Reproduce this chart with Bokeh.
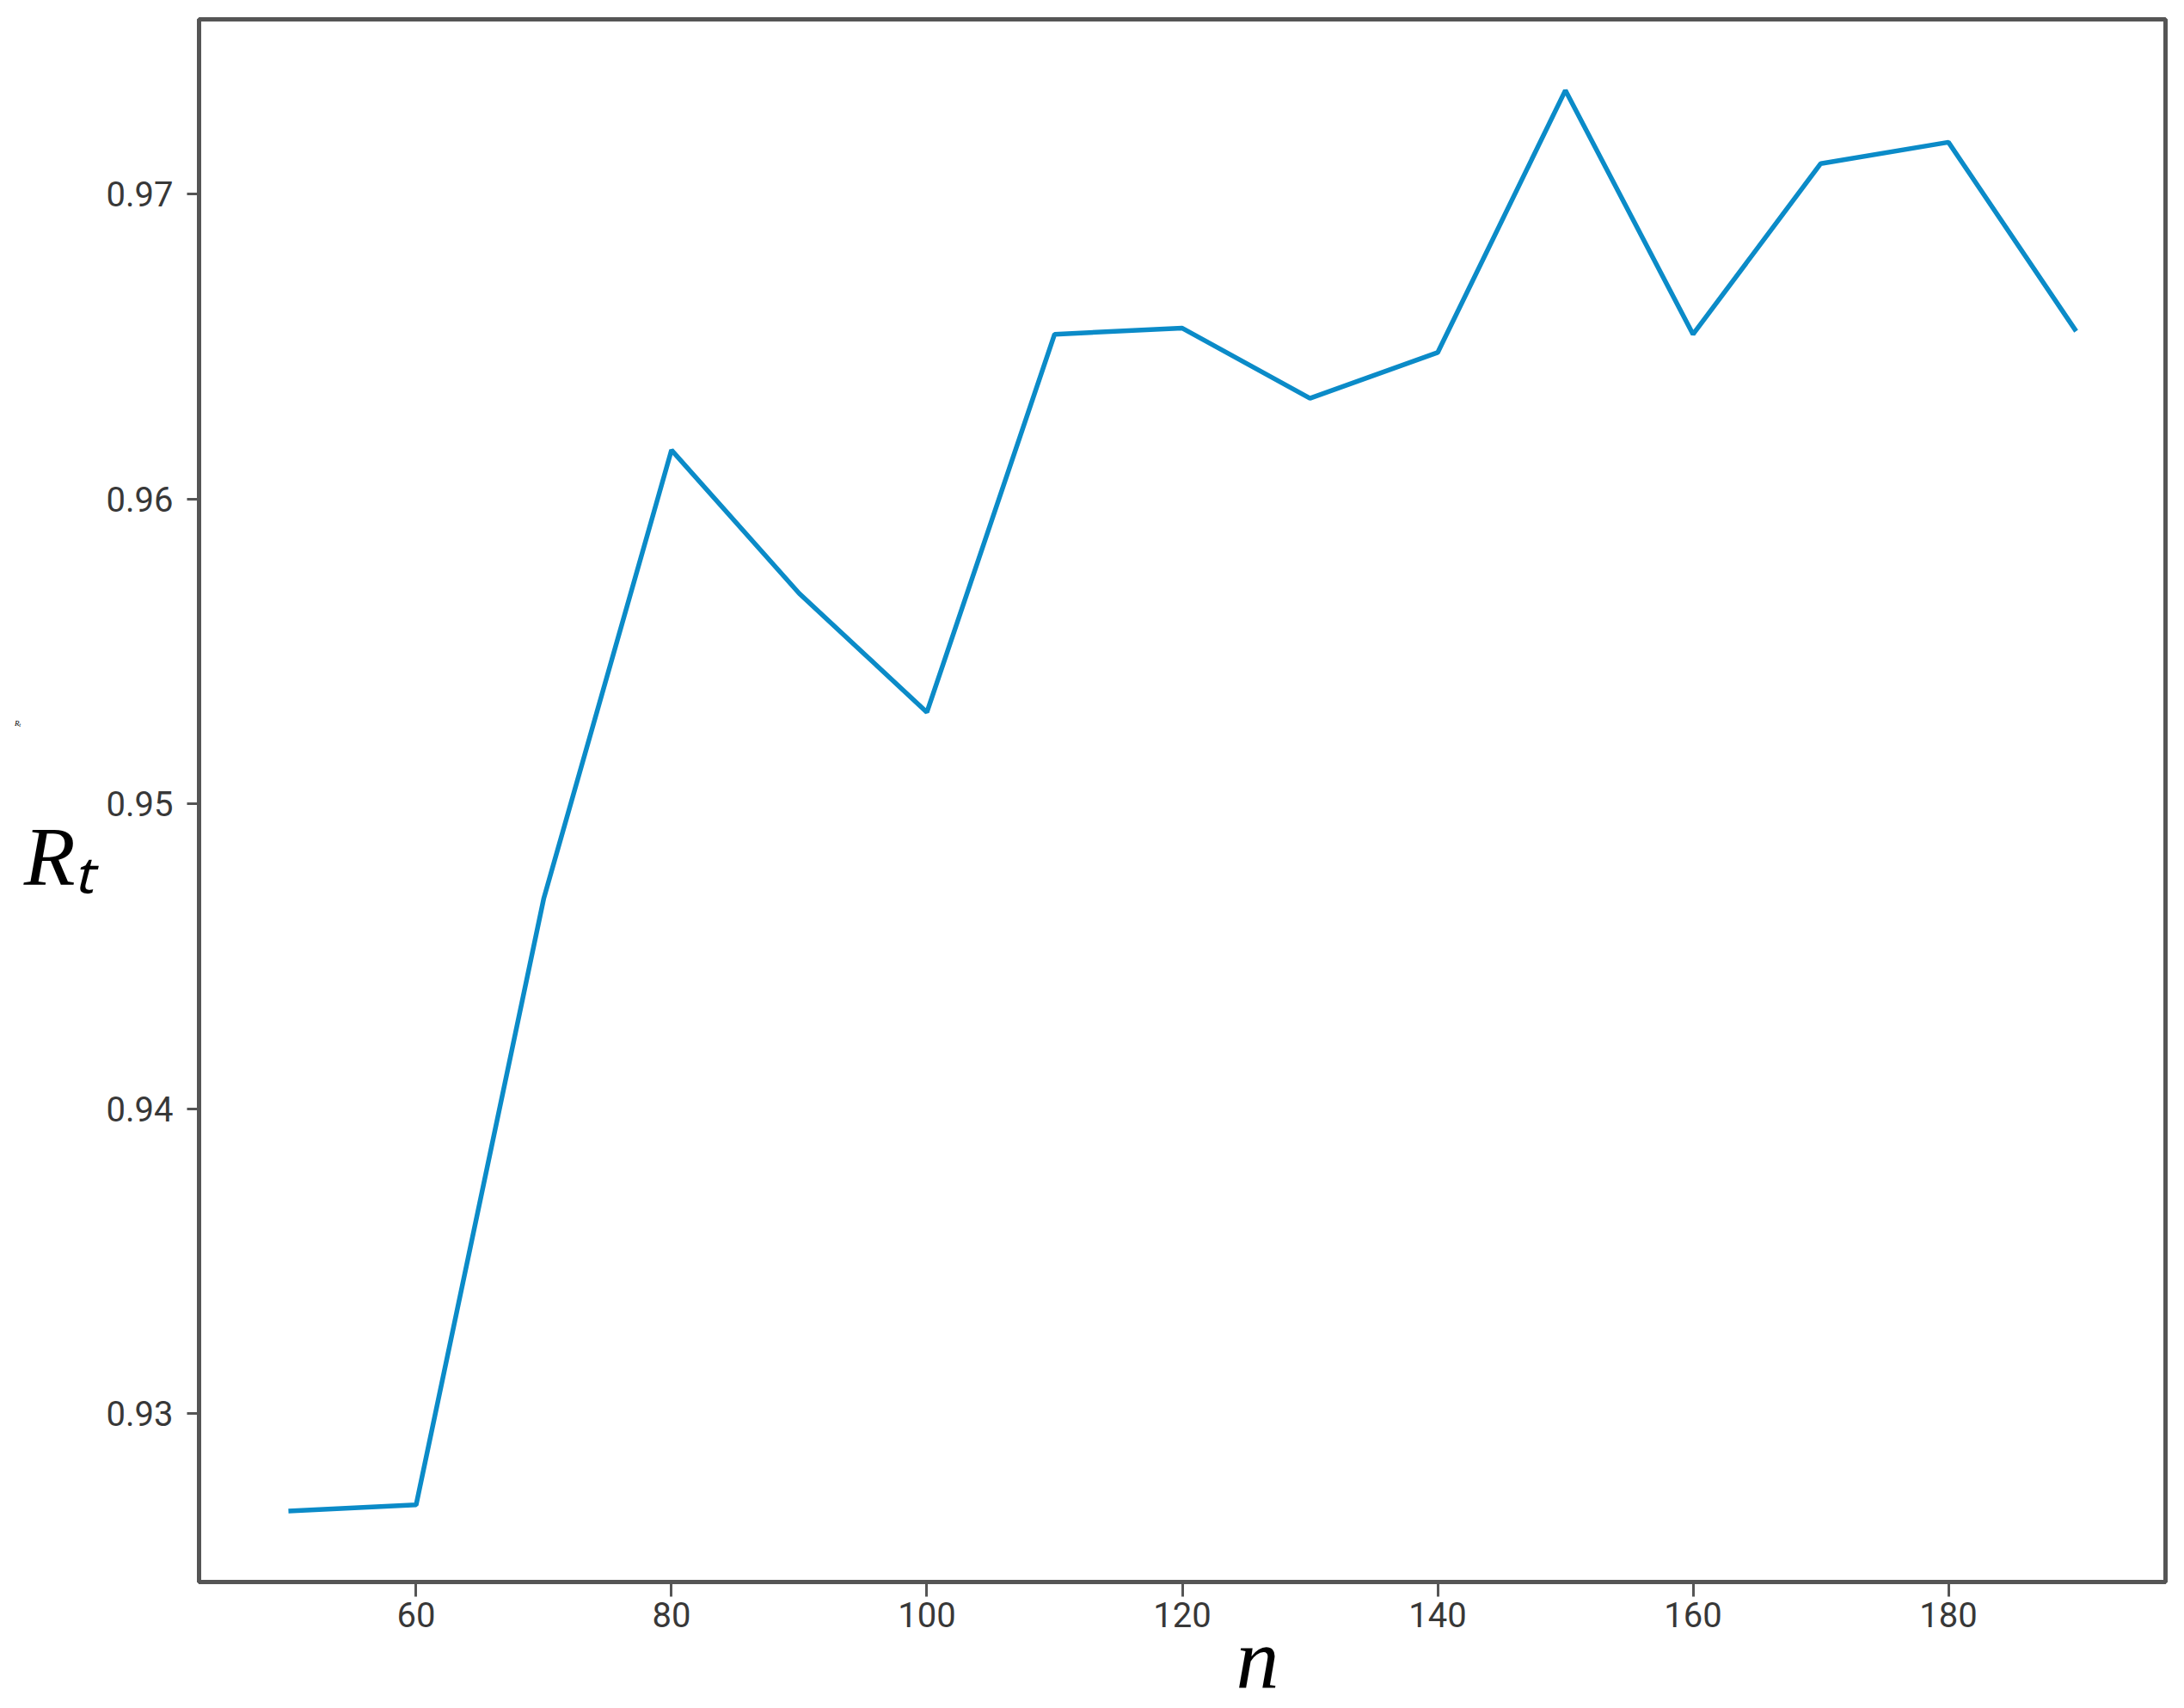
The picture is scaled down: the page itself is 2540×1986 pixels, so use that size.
from bokeh.plotting import figure
from bokeh.models import Range1d, FixedTicker, NumeralTickFormatter, LinearAxis
from bokeh.embed import file_html
from bokeh.resources import INLINE

# data
n_values = [50, 60, 70, 80, 90, 100, 110, 120, 130, 140, 150, 160, 170, 180, 190]
rt_values = [0.9268, 0.9270, 0.9469, 0.9616, 0.9569, 0.9530, 0.9654, 0.9656,
             0.9633, 0.9648, 0.9734, 0.9654, 0.9710, 0.9717, 0.9655]
x_ticks = [60, 80, 100, 120, 140, 160, 180]
y_ticks = [0.93, 0.94, 0.95, 0.96, 0.97]
x_label = "n"
y_label = "R\u209c"

# matplotlib-like 5% margins
xr = max(n_values) - min(n_values)
yr = max(rt_values) - min(rt_values)
x_range = Range1d(min(n_values) - 0.05 * xr, max(n_values) + 0.05 * xr)
y_range = Range1d(min(rt_values) - 0.05 * yr, max(rt_values) + 0.05 * yr)

W, H = 2540, 1986
p = figure(width=W, height=H, x_range=x_range, y_range=y_range,
           output_backend="svg", toolbar_location=None,
           min_border_left=231, min_border_right=22,
           min_border_top=22, min_border_bottom=146)
p.background_fill_color = "white"
p.border_fill_color = "white"
p.grid.visible = False
p.outline_line_color = "#555555"
p.outline_line_width = 5

axis_col = "#555555"
tick_font = "Liberation Sans Narrow, Roboto, sans-serif"
serif = "Liberation Serif"
for ax in (p.xaxis[0], p.yaxis[0]):
    ax.axis_line_color = axis_col
    ax.axis_line_width = 5
    ax.major_tick_line_color = axis_col
    ax.major_tick_line_width = 3
    ax.minor_tick_line_color = None
    ax.major_tick_in = 0
    ax.major_label_text_font = tick_font
    ax.major_label_text_font_size = "40px"
    ax.major_label_text_color = "#383838"
    ax.axis_label_text_font = serif
    ax.axis_label_text_font_style = "italic"
    ax.axis_label_text_color = "black"

p.xaxis[0].ticker = FixedTicker(ticks=x_ticks)
p.yaxis[0].ticker = FixedTicker(ticks=y_ticks)
p.yaxis[0].formatter = NumeralTickFormatter(format="0.00")
p.xaxis[0].major_tick_out = 17
p.yaxis[0].major_tick_out = 14
p.xaxis[0].major_label_standoff = 6
p.yaxis[0].major_label_standoff = 16

# axis titles
p.xaxis[0].axis_label = "\u00a0" * 7 + x_label
p.xaxis[0].axis_label_text_font_size = "100px"
p.xaxis[0].axis_label_standoff = -22
p.yaxis[0].axis_label = "\u00a0\n" + y_label
p.yaxis[0].axis_label_orientation = "horizontal"
p.yaxis[0].axis_label_text_font_size = "98px"
p.yaxis[0].axis_label_standoff = 10

# tiny stray copy of the y title at the far left
stray = LinearAxis(ticker=FixedTicker(ticks=[]), axis_line_color=None,
                   major_tick_line_color=None, minor_tick_line_color=None,
                   axis_label=y_label + "\n\u00a0" * 15,
                   axis_label_orientation="horizontal",
                   axis_label_text_font=serif, axis_label_text_font_style="italic",
                   axis_label_text_font_size="9px", axis_label_text_color="black",
                   axis_label_standoff=0)
p.add_layout(stray, "left")

p.line(n_values, rt_values, line_color="#0b8bc8", line_width=5.5)

open("out.html", "w").write(file_html(p, INLINE))
